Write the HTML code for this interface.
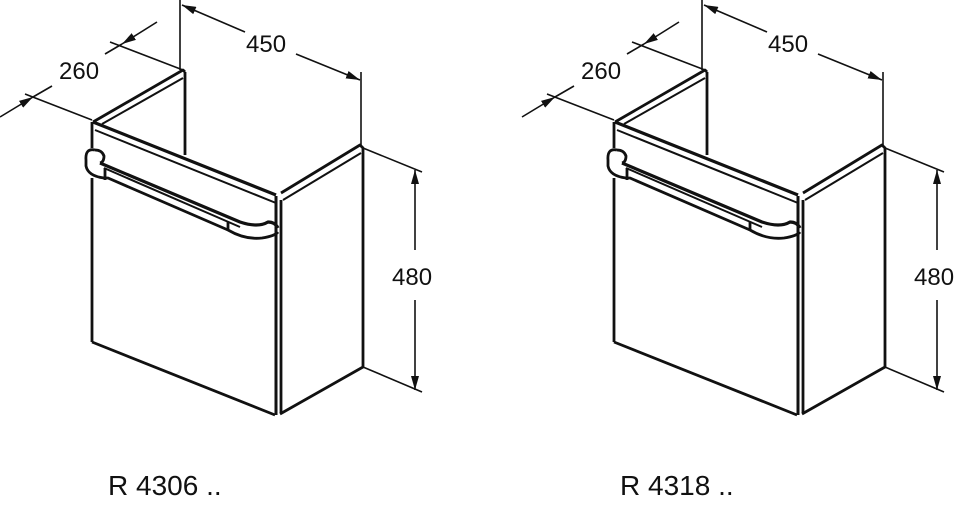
<!DOCTYPE html>
<html><head><style>
body{margin:0;background:#fff;width:960px;height:505px;overflow:hidden}
svg{position:absolute;left:0;top:0}
text{font-family:"Liberation Sans",sans-serif;fill:#111}
</style></head><body>
<svg width="960" height="505" viewBox="0 0 960 505">
<defs>
<marker id="a" markerWidth="14" markerHeight="8" refX="14" refY="4" orient="auto" markerUnits="userSpaceOnUse"><path d="M0,0 L14,4 L0,8 z" fill="#111"/></marker>
<g id="cab" fill="none" stroke="#111" stroke-width="2.8" stroke-linejoin="round">
  <line x1="185" y1="72" x2="185" y2="155"/>
  <path d="M93,122 L183,70 L185,72"/>
  <path d="M102,124 L183,78" stroke-width="2"/>
  <path d="M93,122 L276,195" stroke-width="3.2"/>
  <path d="M95,130 L276,203" stroke-width="2"/>
  <line x1="92" y1="122" x2="92" y2="148"/>
  <line x1="92" y1="178" x2="92" y2="342"/>
  <line x1="92" y1="342" x2="275" y2="415"/>
  <line x1="276" y1="196" x2="276" y2="415" stroke-width="3"/>
  <line x1="281" y1="200" x2="281" y2="413"/>
  <path d="M281,193 L360,145 L363,148 L363,367 L280,414"/>
  <path d="M283,200 L361,153" stroke-width="2"/>
  <path d="M100,163 L240,222 Q258,228 268,222 Q275,222 278,228" stroke-width="3.2"/>
  <path d="M104,168 L240,227" stroke-width="2"/>
  <path d="M95,150 Q85,148 86,160 L86,166 Q88,176 104,178 L108,178 L228,230 Q245,240 262,238 Q275,236 278,232"/>
  <path d="M95,150 Q102,150 104,156 Q104,162 100,163" />
  <line x1="105" y1="168" x2="105" y2="180"/>
  <line x1="228" y1="222" x2="228" y2="231"/>
</g>
<g id="dims" fill="none" stroke="#111" stroke-width="1.6">
  <line x1="180" y1="0" x2="180" y2="70"/>
  <line x1="361" y1="72" x2="361" y2="145"/>
  <line x1="245" y1="32" x2="182" y2="5" marker-end="url(#a)"/>
  <line x1="296" y1="54" x2="360" y2="80" marker-end="url(#a)"/>
  <line x1="110" y1="42" x2="183" y2="70"/>
  <line x1="25" y1="94" x2="92" y2="120"/>
  <line x1="157" y1="22" x2="122" y2="44" marker-end="url(#a)"/>
  <line x1="122" y1="44" x2="105" y2="54"/>
  <line x1="0" y1="117" x2="33" y2="97" marker-end="url(#a)"/>
  <line x1="33" y1="97" x2="52" y2="86"/>
  <line x1="363" y1="148" x2="422" y2="172"/>
  <line x1="363" y1="367" x2="422" y2="392"/>
  <line x1="415" y1="250" x2="415" y2="170" marker-end="url(#a)"/>
  <line x1="415" y1="300" x2="415" y2="390" marker-end="url(#a)"/>
</g>
</defs>
<use href="#cab"/><use href="#dims"/>
<text x="246" y="52" font-size="24">450</text>
<text x="59" y="79" font-size="24">260</text>
<text x="392" y="285" font-size="24">480</text>
<text x="108" y="495" font-size="28">R 4306 ..</text>
<g transform="translate(522,0)">
<use href="#cab"/><use href="#dims"/>
<text x="246" y="52" font-size="24">450</text>
<text x="59" y="79" font-size="24">260</text>
<text x="392" y="285" font-size="24">480</text>
<text x="98" y="495" font-size="28">R 4318 ..</text>
</g>
</svg>
</body></html>
